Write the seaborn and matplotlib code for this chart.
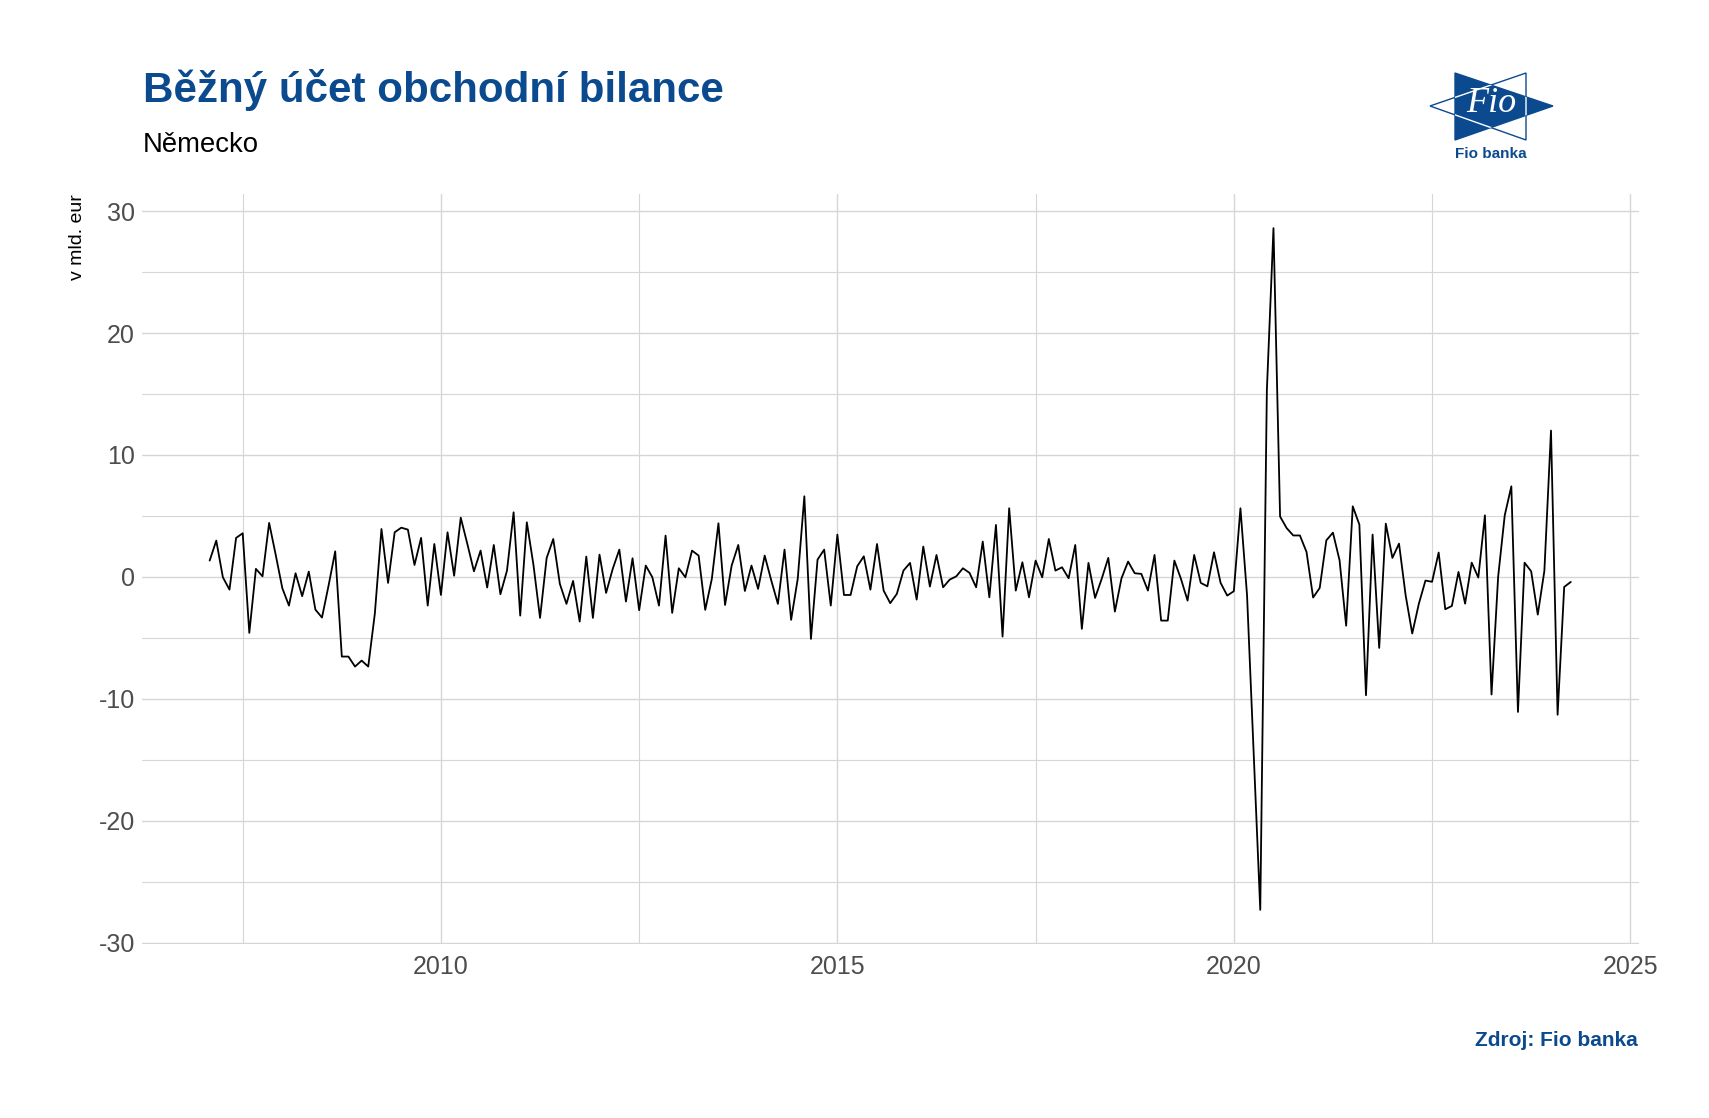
import numpy as np
import pandas as pd
import matplotlib
matplotlib.use("Agg")
import matplotlib.pyplot as plt
from matplotlib.patches import Polygon
from matplotlib.ticker import FixedLocator, FuncFormatter
import seaborn as sns

title = "Běžný účet obchodní bilance"
subtitle = "Německo"
y_label = "v mld. eur"
source = "Zdroj: Fio banka"

first_month = "2007-02-01"
# monthly values, bn EUR
balance = [
    1.34, 2.98, -0.03, -1.04, 3.2, 3.58, -4.59, 0.66, 0.05, 4.43, 1.8,            # 2007
    -0.93, -2.35, 0.3, -1.58, 0.44, -2.68, -3.33, -0.7, 2.1, -6.53, -6.53, -7.35,  # 2008
    -6.86, -7.35, -3.0, 3.93, -0.49, 3.66, 4.04, 3.88, 0.98, 3.2, -2.35, 2.7,      # 2009
    -1.48, 3.66, 0.1, 4.86, 2.7, 0.46, 2.16, -0.87, 2.62, -1.42, 0.52, 5.3,        # 2010
    -3.17, 4.48, 1.0, -3.36, 1.55, 3.11, -0.57, -2.21, -0.33, -3.66, 1.67, -3.36,  # 2011
    1.83, -1.31, 0.66, 2.24, -2.02, 1.53, -2.73, 0.93, -0.03, -2.35, 3.39, -2.95,  # 2012
    0.71, -0.03, 2.16, 1.75, -2.7, -0.16, 4.4, -2.3, 0.93, 2.62, -1.15, 0.93,      # 2013
    -0.98, 1.75, -0.3, -2.21, 2.24, -3.52, -0.16, 6.61, -5.08, 1.42, 2.24, -2.35,  # 2014
    3.47, -1.48, -1.48, 0.87, 1.69, -1.04, 2.7, -1.12, -2.15, -1.39, 0.52, 1.15,   # 2015
    -1.86, 2.49, -0.79, 1.8, -0.85, -0.22, 0.05, 0.71, 0.33, -0.85, 2.9, -1.67,    # 2016
    4.26, -4.89, 5.63, -1.12, 1.2, -1.67, 1.34, -0.03, 3.11, 0.52, 0.79, -0.11,    # 2017
    2.62, -4.26, 1.15, -1.72, -0.16, 1.56, -2.84, -0.11, 1.26, 0.3, 0.25, -1.12,   # 2018
    1.8, -3.58, -3.58, 1.34, -0.16, -1.94, 1.8, -0.49, -0.77, 2.02, -0.49, -1.53,  # 2019
    -1.17, 5.63, -1.5, -14.5, -27.3, 15.3, 28.6, 4.95, 4.0, 3.4, 3.4, 2.05,        # 2020
    -1.69, -0.9, 3.0, 3.63, 1.37, -4.0, 5.79, 4.29, -9.7, 3.47, -5.82, 4.37,       # 2021
    1.56, 2.73, -1.5, -4.64, -2.2, -0.3, -0.4, 2.0, -2.65, -2.38, 0.41, -2.19,     # 2022
    1.17, -0.05, 5.05, -9.64, 0.0, 5.05, 7.43, -11.07, 1.17, 0.46, -3.09, 0.5,     # 2023
    12.0, -11.3, -0.82, -0.41,                                                      # 2024
]

x_ticks = [2010, 2015, 2020, 2025]
x_minor = [2007.5, 2012.5, 2017.5, 2022.5]
y_ticks = [-30, -20, -10, 0, 10, 20, 30]
y_minor = [-25, -15, -5, 5, 15, 25]

fio_blue = "#0b4a8e"

months = pd.date_range(first_month, periods=len(balance), freq="MS")
df = pd.DataFrame({"t": months.year + (months.month - 1) / 12, "value": balance})

sns.set_style("white")
plt.rcParams["font.family"] = ["Liberation Sans", "DejaVu Sans"]

W, H = 1709, 1118
fig = plt.figure(figsize=(W / 100, H / 100), dpi=100)
ax = fig.add_axes([142 / W, 1 - 944 / H, (1639 - 142) / W, (944 - 194) / H])

sns.lineplot(data=df, x="t", y="value", color="black", linewidth=1.3, ax=ax)

ax.set_xlim(2006.23, 2025.11)
ax.set_ylim(-30.1, 31.4)
ax.xaxis.set_major_locator(FixedLocator(x_ticks))
ax.xaxis.set_minor_locator(FixedLocator(x_minor))
ax.yaxis.set_major_locator(FixedLocator(y_ticks))
ax.yaxis.set_minor_locator(FixedLocator(y_minor))
ax.yaxis.set_major_formatter(FuncFormatter(lambda v, p: f"{int(v)}"))
ax.grid(which="major", color="#d6d6d6", linewidth=1.0)
ax.grid(which="minor", color="#d6d6d6", linewidth=0.8)
ax.set_axisbelow(True)
for s in ax.spines.values():
    s.set_visible(False)
ax.tick_params(axis="both", which="both", length=0, labelsize=18, labelcolor="#4d4d4d")
ax.tick_params(axis="x", pad=8)
ax.tick_params(axis="y", pad=5)
ax.set_xlabel("")
ax.set_ylabel("")

# overlay in pixel coordinates for texts and the logo
ov = fig.add_axes([0, 0, 1, 1])
ov.set_xlim(0, W)
ov.set_ylim(H, 0)
ov.axis("off")

ov.text(143, 90, title, fontsize=30.3, fontweight="bold", color=fio_blue, ha="left", va="center")
ov.text(143, 145, subtitle, fontsize=19.8, color="black", ha="left", va="center")
ov.text(78, 194, y_label, fontsize=14, color="black", rotation=90, ha="center", va="top")
ov.text(1638, 1040, source, fontsize=15, fontweight="bold", color=fio_blue, ha="right", va="center")

# Fio banka logo
tri_r = Polygon([(1455, 73), (1455, 140), (1553, 106)], closed=True, facecolor=fio_blue, edgecolor=fio_blue, lw=1)
ov.add_patch(tri_r)
tri_l_pts = [(1526, 73), (1526, 140), (1430, 106)]
ov.add_patch(Polygon(tri_l_pts, closed=True, facecolor="none", edgecolor=fio_blue, lw=1))
inner = Polygon(tri_l_pts, closed=True, facecolor="none", edgecolor="white", lw=1)
ov.add_patch(inner)
inner.set_clip_path(tri_r)
ov.text(1491, 104, "Fio", fontsize=26, color="white", family="Liberation Serif", style="italic", ha="center", va="center")
ov.text(1491, 154, "Fio banka", fontsize=11, fontweight="bold", color=fio_blue, ha="center", va="center")

fig.savefig("out.png", dpi=100)
